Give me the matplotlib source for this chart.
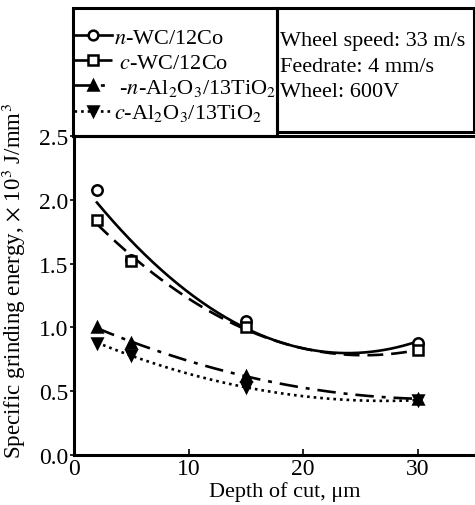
import numpy as np
import matplotlib
matplotlib.use("Agg")
import matplotlib.pyplot as plt
from matplotlib.patches import Rectangle
from matplotlib.lines import Line2D

plt.rcParams['font.family'] = ['Liberation Serif', 'DejaVu Serif']
plt.rcParams['mathtext.fontset'] = 'stix'

depth = [2, 5, 15, 30]
n_wc = [2.08, 1.53, 1.05, 0.88]
c_wc = [1.84, 1.52, 1.00, 0.82]
n_al = [1.00, 0.88, 0.62, 0.44]
c_al = [0.88, 0.78, 0.53, 0.43]

labels = [r"$n$-WC/12Co", r" $c$-WC/12Co", r" -$n$-Al$_2$O$_3$/13TiO$_2$", r"$c$-Al$_2$O$_3$/13TiO$_2$"]
series = [n_wc, c_wc, n_al, c_al]
markers = ['o', 's', '^', 'v']
mfc = ['white', 'white', 'black', 'black']
styles = ['-', (0, (6, 3)), (0, (7, 3, 1.5, 3)), (0, (1, 1.5))]

xticks = [0, 10, 20, 30]
yticks = [0.0, 0.5, 1.0, 1.5, 2.0, 2.5]

fig = plt.figure(figsize=(4.75, 5.06), dpi=100)
ax = fig.add_axes([74/475, 1-456/506, 1-74/475, (456-137)/506])

xs = np.linspace(2, 30, 200)
for y, m, fc, ls in zip(series, markers, mfc, styles):
    coef = np.polyfit(depth, y, 2)
    ax.plot(xs, np.polyval(coef, xs), color='black', lw=1.9, linestyle=ls)
    ax.plot(depth, y, linestyle='none', marker=m, markersize=7.5, mfc=fc, mec='black', mew=1.8)

ax.set_xlim(0, 35)
ax.set_ylim(0, 2.5)
ax.set_xticks(xticks)
ax.set_xticklabels([str(t) for t in xticks])
ax.set_yticks(yticks)
ax.set_yticklabels([f"{t:.1f}" for t in yticks])
ax.tick_params(axis='x', direction='in', length=4, width=1.2, labelsize=17, pad=2)
ax.tick_params(axis='y', direction='out', length=3, width=1.2, labelsize=17, pad=1)
ax.spines['right'].set_visible(False)
for s in ['left', 'bottom', 'top']:
    ax.spines[s].set_linewidth(2.2)
ax.set_xlabel("Depth of cut, μm", fontsize=16, labelpad=0)
ax.set_ylabel(r"Specific grinding energy, $\times$ 10$^3$ J/mm$^3$", fontsize=16.5, labelpad=1)
ax.xaxis.set_label_coords(0.526, -0.082)
ax.yaxis.set_label_coords(-0.115, 0.55)

W, H = 475, 506
fig.patches.append(Rectangle((73/W, 1-137/H), (277-73)/W, (137-9)/H, transform=fig.transFigure,
                             fill=False, ec='black', lw=2.2))
fig.patches.append(Rectangle((277/W, 1-133/H), (474-277)/W, (133-9)/H, transform=fig.transFigure,
                             fill=False, ec='black', lw=2.2))

handles = [Line2D([], [], color='black', lw=1.9, linestyle=ls, marker=m, mfc=fc, mec='black', mew=1.8, markersize=7)
           for m, fc, ls in zip(markers, mfc, styles)]
fig.legend(handles, labels, loc='upper left', bbox_to_anchor=(74/W, 1-28/H), frameon=False,
           fontsize=16, handlelength=1.7, handletextpad=0.1, labelspacing=0.2, borderaxespad=0, borderpad=0.0)

fig.text(280/W, 1-67/H, "Wheel speed: 33 m/s\nFeedrate: 4 mm/s\nWheel: 600V", fontsize=16,
         va='center', ha='left', linespacing=1.45)

fig.savefig("out.png", dpi=100)
